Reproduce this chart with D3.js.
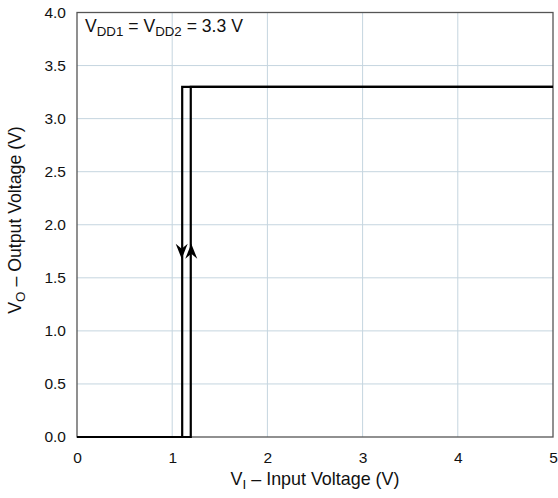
<!DOCTYPE html>
<html><head><meta charset="utf-8">
<script src="https://cdn.jsdelivr.net/npm/d3@7"></script>
<style>body{margin:0;background:#fff}svg{display:block}text{font-family:"Liberation Sans",Arial,sans-serif;fill:#111}</style>
</head><body>
<svg id="c" width="558" height="498"></svg>
<script>
const xTicks = [0,1,2,3,4,5];
const yTicks = [0,0.5,1.0,1.5,2.0,2.5,3.0,3.5,4.0];
// falling transition (high -> low) path
const fallX = [5, 1.105, 1.105];
const fallY = [3.3, 3.3, 0];
// rising transition (low -> high) path
const riseX = [0, 1.195, 1.195, 5];
const riseY = [0, 0, 3.3, 3.3];
const arrowAt = 1.75;

const svg = d3.select("#c");
const m = {l:77, r:553, t:12.5, b:437};
const x = d3.scaleLinear().domain([0,5]).range([m.l, m.r]);
const y = d3.scaleLinear().domain([0,4]).range([m.b, m.t]);

// grid
svg.append("g").selectAll("line").data(xTicks.slice(1,-1)).join("line")
  .attr("x1",d=>x(d)).attr("x2",d=>x(d)).attr("y1",m.t).attr("y2",m.b)
  .attr("stroke","#c5d5df").attr("stroke-width",1);
svg.append("g").selectAll("line").data(yTicks.slice(1,-1)).join("line")
  .attr("x1",m.l).attr("x2",m.r).attr("y1",d=>y(d)).attr("y2",d=>y(d))
  .attr("stroke","#c5d5df").attr("stroke-width",1);

// frame
svg.append("rect").attr("x",m.l).attr("y",m.t).attr("width",m.r-m.l).attr("height",m.b-m.t)
  .attr("fill","none").attr("stroke","#555").attr("stroke-width",1.3);

const FF = "Liberation Sans, Arial, sans-serif";
// axes labels
const xa = svg.append("g").attr("transform",`translate(0,${m.b})`)
  .call(d3.axisBottom(x).tickValues(xTicks).tickSize(0).tickPadding(15).tickFormat(d3.format("d")));
xa.select(".domain").remove();
xa.selectAll("text").attr("font-size",15.5).attr("fill","#111").attr("font-family",FF);
const ya = svg.append("g").attr("transform",`translate(${m.l},0)`)
  .call(d3.axisLeft(y).tickValues(yTicks).tickSize(0).tickPadding(11).tickFormat(d3.format(".1f")));
ya.select(".domain").remove();
ya.selectAll("text").attr("font-size",15.5).attr("fill","#111").attr("font-family",FF);

// curves
const line = d3.line().x(d=>x(d[0])).y(d=>y(d[1]));
svg.append("path").attr("d", line(fallX.map((v,i)=>[v,fallY[i]])))
  .attr("fill","none").attr("stroke","#000").attr("stroke-width",2.2);
svg.append("path").attr("d", line(riseX.map((v,i)=>[v,riseY[i]])))
  .attr("fill","none").attr("stroke","#000").attr("stroke-width",2.2);

// arrows
function arrow(cx, cy, dir){ // dir 1 = down, -1 = up
  const h=15, w=6, n=5;
  const tip = cy + dir*h/2, base = cy - dir*h/2;
  const p = [[cx, tip],[cx-w, base],[cx, base+dir*n],[cx+w, base]];
  svg.append("path").attr("d","M"+p.map(q=>q.join(",")).join("L")+"Z").attr("fill","#000");
}
arrow(x(fallX[1])-0.5, y(arrowAt), 1);
arrow(x(riseX[1])+0.5, y(arrowAt), -1);

// annotation
const ann = svg.append("text").attr("x",85).attr("y",32).attr("font-size",17.6);
ann.append("tspan").text("V");
ann.append("tspan").attr("font-size",13.3).attr("dy",3.5).text("DD1");
ann.append("tspan").attr("dy",-3.5).text(" = V");
ann.append("tspan").attr("font-size",13.3).attr("dy",3.5).text("DD2");
ann.append("tspan").attr("dy",-3.5).text(" = 3.3 V");

// x title
const xt = svg.append("text").attr("x",(m.l+m.r)/2).attr("y",485).attr("text-anchor","middle").attr("font-size",17.9);
xt.append("tspan").text("V");
xt.append("tspan").attr("font-size",13.5).attr("dy",3.5).text("I");
xt.append("tspan").attr("dy",-3.5).text(" – Input Voltage (V)");

// y title
const yt = svg.append("text").attr("transform",`translate(21,220) rotate(-90)`).attr("text-anchor","middle").attr("font-size",17.7);
yt.append("tspan").text("V");
yt.append("tspan").attr("font-size",13.4).attr("dy",3.5).text("O");
yt.append("tspan").attr("dy",-3.5).text(" – Output Voltage (V)");
</script>
</body></html>
